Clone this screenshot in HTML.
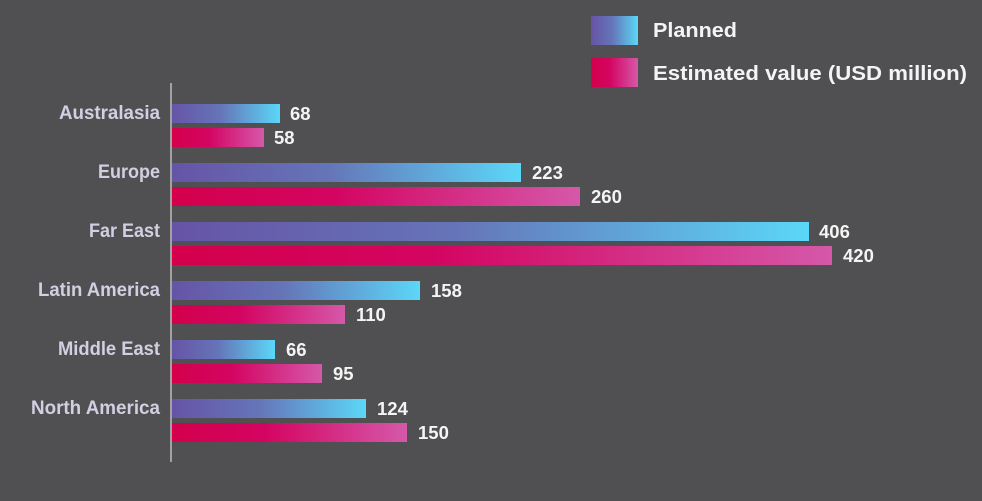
<!DOCTYPE html>
<html>
<head>
<meta charset="utf-8">
<style>
  html,body{margin:0;padding:0;background:#505052;}
  svg{display:block;}
  .cat{font-family:"Liberation Sans",sans-serif;font-weight:bold;font-size:19px;fill:#d3cfe2;}
  .val{font-family:"Liberation Sans",sans-serif;font-weight:bold;font-size:18.5px;fill:#f4f4f4;}
  .leg{font-family:"Liberation Sans",sans-serif;font-weight:bold;font-size:20px;fill:#f4f4f4;}
</style>
</head>
<body>
<svg width="982" height="501" viewBox="0 0 982 501" xmlns="http://www.w3.org/2000/svg">
  <defs>
    <linearGradient id="gp" x1="0" y1="0" x2="1" y2="0">
      <stop offset="0" stop-color="#6654a6"/>
      <stop offset="0.45" stop-color="#6575b8"/>
      <stop offset="1" stop-color="#5bd7f8"/>
    </linearGradient>
    <linearGradient id="ge" x1="0" y1="0" x2="1" y2="0">
      <stop offset="0" stop-color="#d4004c"/>
      <stop offset="0.4" stop-color="#d40562"/>
      <stop offset="1" stop-color="#d558a9"/>
    </linearGradient>
  </defs>
  <rect width="982" height="501" fill="#505052"/>

  <!-- legend -->
  <rect x="591" y="16" width="47" height="29" fill="url(#gp)"/>
  <rect x="591" y="58" width="47" height="29" fill="url(#ge)"/>
  <text class="leg" x="653" y="37" textLength="84" lengthAdjust="spacingAndGlyphs">Planned</text>
  <text class="leg" x="653" y="80" textLength="314" lengthAdjust="spacingAndGlyphs">Estimated value (USD million)</text>

  <!-- axis -->
  <line x1="171" y1="83" x2="171" y2="462" stroke="#bdbdbd" stroke-width="1.5"/>

  <!-- Australasia -->
  <text class="cat" x="59" y="119" textLength="101" lengthAdjust="spacingAndGlyphs">Australasia</text>
  <rect x="172" y="104" width="108" height="19" fill="url(#gp)"/>
  <rect x="172" y="128" width="92" height="19" fill="url(#ge)"/>
  <text class="val" x="290" y="120">68</text>
  <text class="val" x="274" y="144">58</text>

  <!-- Europe -->
  <text class="cat" x="98" y="178" textLength="62" lengthAdjust="spacingAndGlyphs">Europe</text>
  <rect x="172" y="163" width="349" height="19" fill="url(#gp)"/>
  <rect x="172" y="187" width="408" height="19" fill="url(#ge)"/>
  <text class="val" x="532" y="179">223</text>
  <text class="val" x="591" y="203">260</text>

  <!-- Far East -->
  <text class="cat" x="89" y="237" textLength="71" lengthAdjust="spacingAndGlyphs">Far East</text>
  <rect x="172" y="222" width="637" height="19" fill="url(#gp)"/>
  <rect x="172" y="246" width="660" height="19" fill="url(#ge)"/>
  <text class="val" x="819" y="238">406</text>
  <text class="val" x="843" y="262">420</text>

  <!-- Latin America -->
  <text class="cat" x="38" y="296" textLength="122" lengthAdjust="spacingAndGlyphs">Latin America</text>
  <rect x="172" y="281" width="248" height="19" fill="url(#gp)"/>
  <rect x="172" y="305" width="173" height="19" fill="url(#ge)"/>
  <text class="val" x="431" y="297">158</text>
  <text class="val" x="356" y="321">110</text>

  <!-- Middle East -->
  <text class="cat" x="58" y="355" textLength="102" lengthAdjust="spacingAndGlyphs">Middle East</text>
  <rect x="172" y="340" width="103" height="19" fill="url(#gp)"/>
  <rect x="172" y="364" width="150" height="19" fill="url(#ge)"/>
  <text class="val" x="286" y="356">66</text>
  <text class="val" x="333" y="380">95</text>

  <!-- North America -->
  <text class="cat" x="31" y="414" textLength="129" lengthAdjust="spacingAndGlyphs">North America</text>
  <rect x="172" y="399" width="194" height="19" fill="url(#gp)"/>
  <rect x="172" y="423" width="235" height="19" fill="url(#ge)"/>
  <text class="val" x="377" y="415">124</text>
  <text class="val" x="418" y="439">150</text>
</svg>
</body>
</html>
